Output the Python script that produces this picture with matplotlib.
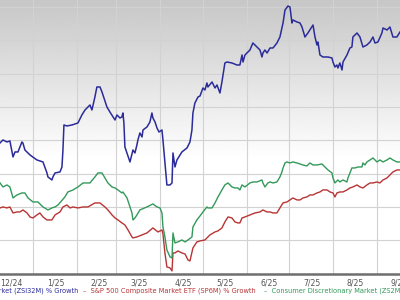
import matplotlib
matplotlib.use('Agg')
import matplotlib.pyplot as plt
import numpy as np

# x = days since 1 Jan 2025, y = % growth
blue_days = [-23.3, -21.2, -18.4, -16.3, -14.1, -12.7, -10.6, -7.8, -7.1, -5.7,
             -2.1, 2.8, 7.1, 9.9, 10.6, 13.4, 14.1, 15.6, 19.1, 20.5,
             21.2, 21.9, 24.0, 27.6, 31.8, 34.6, 36.8, 38.9, 40.3, 41.7,
             43.8, 45.2, 47.4, 48.8, 49.5, 52.3, 54.4, 56.6, 58.0, 59.4,
             61.5, 62.9, 63.6, 64.3, 65.0, 68.6, 70.7, 72.1, 73.5, 74.2,
             75.6, 77.1, 77.8, 80.6, 82.7, 84.1, 84.8, 86.3, 87.7, 89.1,
             91.2, 91.9, 93.3, 94.7, 96.9, 98.3, 99.0, 100.4, 101.8, 105.3,
             108.9, 111.0, 112.4, 113.1, 114.5, 116.7, 118.1, 120.2, 121.6, 123.0,
             123.7, 126.6, 128.7, 130.1, 132.2, 133.6, 135.7, 137.2, 140.7, 144.2,
             146.3, 147.8, 148.5, 149.9, 153.4, 155.5, 158.4, 160.5, 161.9, 162.6,
             164.0, 165.5, 167.6, 169.7, 172.5, 174.6, 176.0, 176.8, 178.2, 180.3,
             181.7, 183.1, 183.8, 186.7, 188.8, 190.2, 192.3, 194.4, 198.0, 199.4,
             200.8, 201.5, 202.9, 205.0, 208.6, 211.4, 212.1, 213.5, 214.9, 215.6,
             217.0, 218.5, 219.2, 222.0, 224.1, 225.5, 226.2, 229.1, 231.2, 233.3,
             236.1, 238.3, 240.4, 241.8, 243.9, 246.7, 247.5, 250.3, 252.4, 254.5,
             257.3, 259.5]
blue_vals = [19.2, 20.1, 19.5, 19.8, 15.0, 16.5, 16.5, 19.5, 19.2, 17.1,
             15.6, 14.1, 13.5, 10.2, 9.0, 8.1, 9.0, 10.2, 10.5, 12.0,
             17.1, 24.6, 24.3, 24.6, 25.2, 27.6, 29.1, 30.0, 30.6, 29.1,
             33.0, 36.0, 36.0, 34.5, 33.6, 30.0, 28.5, 27.0, 26.1, 27.6,
             26.7, 27.0, 28.2, 25.2, 18.0, 13.5, 17.1, 16.2, 18.6, 20.1,
             22.2, 21.0, 23.1, 24.0, 25.5, 28.2, 26.7, 25.5, 23.7, 22.5,
             23.1, 20.1, 13.2, 6.6, 6.6, 7.2, 16.2, 12.0, 14.1, 16.5,
             17.7, 19.5, 23.1, 28.2, 31.2, 33.0, 33.3, 35.7, 35.1, 37.2,
             36.0, 37.5, 35.7, 36.6, 34.2, 37.5, 43.2, 43.5, 43.2, 42.6,
             42.6, 45.6, 43.5, 45.6, 47.1, 49.2, 48.0, 47.1, 45.0, 46.2,
             47.1, 46.2, 47.7, 47.7, 49.2, 51.0, 53.7, 55.2, 59.1, 60.3,
             60.0, 55.2, 56.1, 55.5, 55.2, 54.0, 51.0, 52.2, 54.6, 51.0,
             48.6, 49.5, 45.6, 45.0, 45.0, 44.7, 43.5, 42.0, 42.6, 41.7,
             43.2, 41.1, 43.5, 45.6, 47.7, 48.0, 51.0, 52.2, 51.0, 48.0,
             48.6, 49.5, 51.0, 49.2, 49.5, 52.2, 53.7, 53.1, 54.0, 51.0,
             51.0, 52.5]

green_days = [-23.3, -21.2, -18.4, -16.3, -14.1, -11.3, -7.8, -5.7, -3.5, 0.0,
              3.5, 7.1, 10.6, 13.4, 15.6, 17.7, 22.6, 24.7, 28.3, 31.8,
              35.4, 40.3, 43.8, 45.9, 48.8, 50.9, 53.0, 55.9, 58.0, 60.1,
              62.9, 63.6, 66.5, 68.6, 70.0, 70.7, 72.1, 73.5, 75.6, 80.6,
              84.8, 87.7, 89.8, 91.2, 91.9, 93.3, 94.7, 96.9, 98.3, 99.0,
              100.4, 102.5, 105.3, 107.5, 109.6, 112.4, 113.1, 115.9, 118.1, 120.2,
              123.0, 123.7, 126.6, 128.7, 130.8, 133.6, 135.7, 137.9, 140.7, 142.8,
              144.9, 146.3, 147.8, 149.9, 153.4, 155.5, 158.4, 161.9, 162.6, 164.0,
              166.1, 167.6, 169.7, 172.5, 174.6, 176.0, 176.8, 178.2, 179.6, 181.7,
              183.8, 186.7, 188.8, 190.9, 193.7, 195.8, 198.0, 200.8, 204.3, 206.4,
              208.6, 211.4, 212.1, 213.5, 215.6, 217.0, 219.2, 222.0, 222.7, 224.1,
              225.5, 227.7, 229.8, 232.6, 233.3, 234.7, 236.1, 238.3, 240.4, 243.2,
              245.3, 247.5, 250.3, 252.4, 254.5, 257.3, 259.5]
green_vals = [7.2, 6.0, 6.6, 6.0, 2.7, 3.6, 4.2, 4.2, 2.7, 1.5,
              1.5, 0.0, -0.9, -0.3, 0.0, 0.6, 3.0, 4.5, 5.1, 6.0,
              7.2, 7.2, 9.0, 10.2, 10.2, 8.7, 7.2, 6.0, 5.7, 5.1,
              4.2, 4.5, 2.7, 0.0, -1.8, -3.9, -3.3, -2.4, -0.9, 0.0,
              0.9, 0.0, -0.3, -1.8, -6.0, -9.0, -12.9, -15.0, -15.3, -7.8,
              -10.8, -10.5, -9.9, -10.5, -9.9, -9.0, -6.0, -3.9, -2.7, -1.5,
              0.0, -0.3, -0.3, 1.2, 3.0, 5.1, 6.6, 7.2, 6.0, 5.7,
              5.7, 5.1, 6.6, 6.0, 7.2, 7.5, 7.5, 8.1, 7.2, 6.0,
              7.2, 7.5, 7.2, 7.5, 9.0, 10.5, 11.7, 13.2, 13.5, 13.2,
              13.5, 13.2, 12.9, 12.6, 12.3, 13.2, 12.6, 12.6, 12.9, 12.0,
              11.1, 10.2, 8.7, 7.2, 8.1, 7.5, 8.1, 7.5, 8.7, 10.2,
              11.7, 11.7, 12.0, 12.0, 13.2, 12.6, 13.5, 14.1, 14.7, 13.5,
              14.1, 13.5, 14.1, 14.7, 14.1, 13.5, 13.5]

red_days = [-23.3, -21.2, -18.4, -16.3, -14.1, -11.3, -9.2, -7.1, -4.2, -2.1,
            0.0, 2.8, 4.9, 7.1, 9.9, 13.4, 15.6, 19.1, 21.2, 24.0,
            26.2, 28.3, 31.8, 35.4, 38.9, 43.8, 47.4, 50.9, 53.0, 55.9,
            58.0, 60.1, 62.9, 65.0, 67.2, 70.0, 70.7, 73.5, 77.1, 80.6,
            84.8, 88.4, 91.2, 91.9, 93.3, 94.7, 96.9, 98.3, 99.0, 100.4,
            102.5, 105.3, 107.5, 109.6, 111.0, 113.1, 115.9, 118.1, 121.6, 125.1,
            128.7, 130.8, 133.6, 135.7, 137.9, 140.7, 142.8, 144.9, 146.3, 147.8,
            149.9, 153.4, 157.0, 160.5, 162.6, 165.5, 167.6, 169.7, 172.5, 174.6,
            176.8, 179.6, 181.7, 183.8, 186.7, 188.8, 190.9, 193.7, 195.8, 198.0,
            200.8, 202.9, 205.0, 207.9, 210.0, 212.1, 213.5, 214.9, 217.0, 219.2,
            222.0, 224.1, 226.2, 229.1, 231.2, 233.3, 236.1, 238.3, 240.4, 243.2,
            245.3, 247.5, 250.3, 252.4, 254.5, 257.3, 259.5]
red_vals = [-0.3, 0.0, -0.3, 0.0, -1.8, -1.5, -1.5, -0.9, -1.8, -3.0,
            -3.3, -2.4, -1.8, -3.0, -3.9, -3.9, -2.4, -1.5, 0.0, 0.6,
            -0.3, 0.0, -0.3, 0.0, 0.0, 1.2, 1.2, 0.0, -0.9, -2.4,
            -3.3, -3.9, -4.8, -5.4, -6.9, -9.0, -9.3, -9.0, -8.4, -7.8,
            -6.3, -7.5, -6.9, -8.1, -13.8, -18.0, -18.3, -19.2, -13.8, -13.8,
            -13.2, -13.8, -14.1, -15.9, -16.2, -12.3, -10.5, -10.2, -9.9, -8.4,
            -7.5, -7.2, -6.3, -4.5, -3.0, -3.3, -4.5, -4.8, -4.8, -3.3,
            -3.0, -2.4, -1.8, -1.5, -0.9, -1.5, -1.5, -1.8, -1.8, -0.3,
            1.2, 1.5, 2.1, 2.7, 2.1, 2.1, 2.7, 3.0, 3.6, 3.6,
            4.2, 4.5, 5.1, 5.1, 4.5, 4.2, 3.0, 4.2, 4.5, 4.5,
            5.1, 5.7, 6.0, 6.6, 6.0, 5.7, 6.6, 7.2, 7.2, 7.5,
            7.2, 8.1, 8.7, 9.6, 10.5, 11.1, 11.1]

month_starts = [-31, 0, 31, 59, 90, 120, 151, 181, 212, 243, 273]
month_labels = ['12/24', '1/25', '2/25', '3/25', '4/25', '5/25', '6/25', '7/25', '8/25', '9/25']

names = ['Consumer Discretionary Industry Market (ZSI32M) % Growth',
         'S&P 500 Composite Market ETF (SP6M) % Growth',
         'Consumer Discretionary Market (ZS2M) % Growth']
colors = ['#2b2b9a', '#b83434', '#33995a']

fig = plt.figure(figsize=(4, 3), dpi=100)
ax = fig.add_axes([0, 0.088, 1, 0.912])
x0, x1 = -23.3, 259.5
y0, y1 = -20, 62.1

ax.set_xticks(month_starts)
ax.set_xticks([m + 16 for m in month_starts[:-1]], minor=True)
ax.set_xticklabels([], minor=False)
ax.set_xticklabels(month_labels, minor=True)
ax.set_yticks(np.arange(-20, 70, 10))
ax.set_yticklabels([])
ax.tick_params(which='both', length=0)
ax.tick_params(which='minor', pad=3.5, labelsize=5.6, labelcolor='#555555')
ax.grid(which='major', color='#d2d2d2', lw=0.8, zorder=1)
for s in ['top', 'left', 'right']:
    ax.spines[s].set_visible(False)
ax.spines['bottom'].set_color('#6e6e6e')
ax.spines['bottom'].set_linewidth(1.8)

# grey -> white gradient behind the plot
t = np.linspace(0, 1, 300)
shade = np.clip(0.78 + 0.22 * t / 0.58, 0, 1)[:, None]
ax.imshow(shade, extent=[x0, x1, y0, y1], aspect='auto', cmap='gray',
          vmin=0, vmax=1, zorder=0)

ax.plot(blue_days, blue_vals, color=colors[0], lw=1.1, zorder=3)
ax.plot(red_days, red_vals, color=colors[1], lw=1.0, zorder=3)
ax.plot(green_days, green_vals, color=colors[2], lw=1.0, zorder=3)

ax.set_xlim(x0, x1)
ax.set_ylim(y0, y1)

fig.text(0.195, 0.03, names[0], color=colors[0], fontsize=4.75,
         ha='right', va='center')
fig.text(0.207, 0.03, '\u2013  ' + names[1], color=colors[1], fontsize=4.75,
         ha='left', va='center')
fig.text(0.66, 0.03, '\u2013  ' + names[2], color=colors[2], fontsize=4.75,
         ha='left', va='center')

fig.savefig('out.png', dpi=100)
